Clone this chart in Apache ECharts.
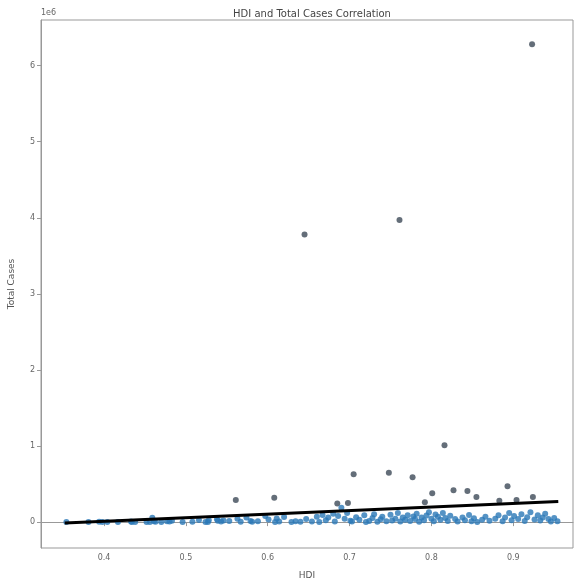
<!DOCTYPE html>
<html>
<head>
    <meta charset="UTF-8">
    <title>HDI and Total Cases Correlation</title>
    <script src="https://cdn.jsdelivr.net/npm/echarts@6.0.0/dist/echarts.min.js"></script>
</head>
<body style="margin: 0;overflow: hidden;background: #fff;">
<div id="main" style="width: 581px;height: 578px;"></div>
<script type="text/javascript">
    // HDI of each country
    var hdi = [
        0.923, 0.645, 0.761, 0.705, 0.748, 0.777, 0.816, 0.801, 0.827, 0.844,
        0.855, 0.893, 0.924, 0.792, 0.883, 0.904, 0.561, 0.608, 0.685, 0.690,
        0.698,
        0.354, 0.381, 0.394, 0.398, 0.404, 0.417, 0.433, 0.434, 0.438, 0.452,
        0.456, 0.459, 0.461, 0.463, 0.470, 0.477, 0.480, 0.483, 0.496, 0.508,
        0.516, 0.524, 0.527, 0.528, 0.538, 0.539, 0.543, 0.546, 0.553, 0.563,
        0.567, 0.574, 0.579, 0.581, 0.588, 0.597, 0.601, 0.609, 0.611, 0.614,
        0.620, 0.629, 0.634, 0.640, 0.647, 0.654, 0.660, 0.663, 0.667, 0.671,
        0.674, 0.680, 0.682, 0.686, 0.694, 0.697, 0.701, 0.703, 0.708, 0.712,
        0.718, 0.720, 0.724, 0.728, 0.730, 0.734, 0.738, 0.740, 0.745, 0.750,
        0.752, 0.756, 0.759, 0.762, 0.765, 0.768, 0.771, 0.774, 0.778, 0.780,
        0.782, 0.785, 0.788, 0.791, 0.794, 0.797, 0.800, 0.803, 0.805, 0.808,
        0.811, 0.814, 0.817, 0.820, 0.823, 0.829, 0.832, 0.838, 0.841, 0.846,
        0.849, 0.852, 0.856, 0.862, 0.866, 0.871, 0.878, 0.882, 0.887, 0.890,
        0.895, 0.898, 0.901, 0.906, 0.910, 0.914, 0.917, 0.921, 0.926, 0.930,
        0.933, 0.936, 0.939, 0.943, 0.946, 0.950, 0.954
    ];
    // total cases, same order as hdi
    var totalCases = [
        6280000, 3780000, 3970000, 630000, 650000, 590000, 1010000, 380000, 420000, 410000,
        330000, 470000, 330000, 260000, 280000, 290000, 290000, 320000, 245000, 190000,
        250000,
        1200, 1100, 4500, 2300, 1300, 3100, 9000, 2500, 2000, 1900,
        2900, 58000, 10500, 3600, 2600, 11000, 9200, 18000, 1500, 6200,
        27000, 2800, 1900, 24000, 38000, 19000, 8200, 20000, 14000, 45000,
        3500, 62000, 16000, 5000, 11000, 80000, 34000, 3000, 48000, 8000,
        66000, 1500, 12000, 4000, 42000, 9000, 70000, 3000, 95000, 25000,
        60000, 110000, 8000, 80000, 45000, 120000, 18000, 7000, 65000, 30000,
        92000, 2000, 14000, 55000, 105000, 6000, 38000, 70000, 12000, 98000,
        20000, 46000, 120000, 8000, 60000, 30000, 92000, 15000, 75000, 40000,
        110000, 5000, 62000, 25000, 88000, 130000, 45000, 10000, 100000, 70000,
        30000, 120000, 55000, 15000, 85000, 40000, 8000, 60000, 25000, 95000,
        12000, 50000, 3000, 30000, 70000, 18000, 45000, 90000, 10000, 60000,
        120000, 25000, 80000, 40000, 105000, 15000, 65000, 130000, 35000, 90000,
        20000, 60000, 110000, 40000, 8000, 55000, 12000
    ];
    // fitted regression line, read at its two ends
    var fitHdi = [0.352, 0.955];
    var fitCases = [-10000, 270000];

    var yTicks = [0, 1000000, 2000000, 3000000, 4000000, 5000000, 6000000];
    var xTicks = [0.4, 0.5, 0.6, 0.7, 0.8, 0.9];

    var points = [];
    for (var i = 0; i < hdi.length; i++) {
        points.push([hdi[i], totalCases[i]]);
    }
    var fitLine = [];
    for (var j = 0; j < fitHdi.length; j++) {
        fitLine.push([fitHdi[j], fitCases[j]]);
    }

    var chart = echarts.init(document.getElementById('main'));
    var option = {
        backgroundColor: '#fff',
        animation: false,
        title: {
            text: 'HDI and Total Cases Correlation',
            left: 307,
            top: 4,
            textAlign: 'center',
            textStyle: {
                color: '#444',
                fontSize: 10,
                fontWeight: 'normal',
                fontFamily: 'DejaVu Sans'
            }
        },
        graphic: [{
            type: 'text',
            left: 41,
            top: 9,
            style: {
                text: '1e6',
                fill: '#666',
                font: '8px DejaVu Sans'
            }
        }],
        grid: {
            left: 41,
            right: 8,
            top: 20,
            bottom: 30,
            outerBoundsMode: 'none',
            containLabel: false,
            show: true,
            borderColor: '#999',
            borderWidth: 1
        },
        visualMap: {
            show: false,
            dimension: 1,
            seriesIndex: 0,
            pieces: [
                {lt: 200000, color: '#2a78b6'},
                {gte: 200000, color: '#3d4a58'}
            ]
        },
        xAxis: {
            type: 'value',
            min: 0.323,
            max: 0.973,
            name: 'HDI',
            nameLocation: 'middle',
            nameGap: 23,
            nameTextStyle: {color: '#555', fontSize: 9, fontFamily: 'DejaVu Sans'},
            splitLine: {show: false},
            axisLine: {lineStyle: {color: '#999'}},
            axisTick: {
                inside: false,
                length: 4,
                lineStyle: {color: '#999'},
                customValues: xTicks
            },
            axisLabel: {
                color: '#666',
                fontSize: 8,
                fontFamily: 'DejaVu Sans',
                margin: 6,
                customValues: xTicks,
                formatter: function (v) {
                    return v.toFixed(1);
                }
            }
        },
        yAxis: {
            type: 'value',
            min: -340000,
            max: 6600000,
            name: 'Total Cases',
            nameLocation: 'middle',
            nameGap: 25,
            nameTextStyle: {color: '#555', fontSize: 9, fontFamily: 'DejaVu Sans'},
            splitLine: {show: false},
            axisLine: {show: true, lineStyle: {color: '#999'}},
            axisTick: {
                show: true,
                length: 4,
                lineStyle: {color: '#999'},
                customValues: yTicks
            },
            axisLabel: {
                color: '#666',
                fontSize: 8,
                fontFamily: 'DejaVu Sans',
                margin: 6,
                customValues: yTicks,
                formatter: function (v) {
                    return String(Math.round(v / 1000000));
                }
            }
        },
        series: [
            {
                name: 'Countries',
                type: 'scatter',
                symbolSize: 6,
                data: points,
                z: 2
            },
            {
                name: 'Fit',
                type: 'line',
                data: fitLine,
                symbol: 'none',
                lineStyle: {color: '#000', width: 3},
                z: 3
            }
        ]
    };
    chart.setOption(option);
</script>
</body>
</html>
